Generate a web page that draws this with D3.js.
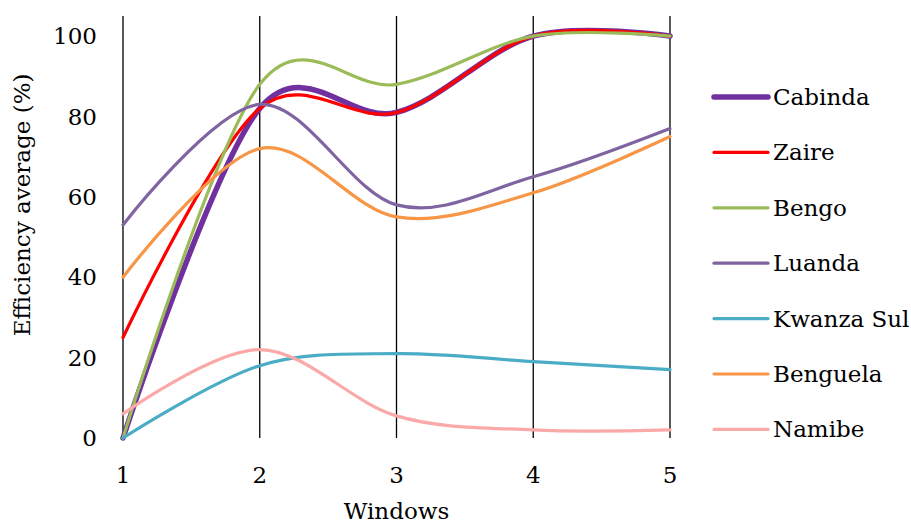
<!DOCTYPE html>
<html>
<head>
<meta charset="utf-8">
<script src="https://cdn.jsdelivr.net/npm/d3@7"></script>
<style>
  body { margin: 0; background: #fff; }
  text { font-family: "DejaVu Serif", serif; fill: #000; }
</style>
</head>
<body>
<div id="chart"></div>
<script>
const windows = [1, 2, 3, 4, 5];
const names = ["Cabinda", "Zaire", "Bengo", "Luanda", "Kwanza Sul", "Benguela", "Namibe"];
const cabinda = [0, 82, 81, 100, 100];
const zaire = [25, 82, 81, 100, 100];
const bengo = [0, 88, 88, 100, 100];
const luanda = [53, 83, 58, 65, 77];
const kwanzaSul = [0, 18, 21, 19, 17];
const benguela = [40, 72, 55, 61, 75];
const namibe = [6, 22, 5.5, 2, 2];
const yTicks = [0, 20, 40, 60, 80, 100];

const series = [cabinda, zaire, bengo, luanda, kwanzaSul, benguela, namibe];
const colors = ["#7030A0", "#FF0000", "#9BBB59", "#8064A2", "#4BACC6", "#F79646", "#FBA8A8"];
const widths = [5.5, 3.2, 3.2, 3.2, 3.2, 3.2, 3.2];

const width = 911, height = 525;
const margin = {top: 16, right: 241, bottom: 87, left: 123};

const svg = d3.select("#chart")
    .append("svg")
    .attr("width", width)
    .attr("height", height);

const x = d3.scaleLinear()
    .domain([1, 5])
    .range([margin.left, width - margin.right]);

const y = d3.scaleLinear()
    .domain([0, 105])
    .range([height - margin.bottom, margin.top]);

// vertical gridlines at each window
svg.selectAll(".grid")
    .data(windows)
    .join("line")
    .attr("x1", d => x(d))
    .attr("x2", d => x(d))
    .attr("y1", y(105))
    .attr("y2", y(0))
    .attr("stroke", "#000")
    .attr("stroke-width", 1.3);

// tick labels
svg.selectAll(".ylab")
    .data(yTicks)
    .join("text")
    .attr("x", 97)
    .attr("y", d => y(d))
    .attr("dy", "0.35em")
    .attr("text-anchor", "end")
    .attr("font-size", "23px")
    .text(d => d);

svg.selectAll(".xlab")
    .data(windows)
    .join("text")
    .attr("x", d => x(d))
    .attr("y", 483)
    .attr("text-anchor", "middle")
    .attr("font-size", "23px")
    .text(d => d);

svg.append("text")
    .attr("x", x(3))
    .attr("y", 519)
    .attr("text-anchor", "middle")
    .attr("font-size", "23px")
    .text("Windows");

svg.append("text")
    .attr("transform", `translate(30, ${y(58)}) rotate(-90)`)
    .attr("text-anchor", "middle")
    .attr("font-size", "23px")
    .text("Efficiency average (%)");

// smoothed lines (Excel-style)
const line = d3.line()
    .x((d, i) => x(windows[i]))
    .y(d => y(d))
    .curve(d3.curveCardinal.tension(0));

svg.selectAll(".series")
    .data(series)
    .join("path")
    .attr("d", d => line(d))
    .attr("fill", "none")
    .attr("stroke", (d, i) => colors[i])
    .attr("stroke-width", (d, i) => widths[i])
    .attr("stroke-linecap", "round");

// legend
const legend = svg.selectAll(".legend")
    .data(names)
    .join("g")
    .attr("transform", (d, i) => `translate(714, ${97 + i * 55.4})`);

legend.append("line")
    .attr("x1", 0)
    .attr("x2", 54)
    .attr("stroke", (d, i) => colors[i])
    .attr("stroke-width", (d, i) => widths[i])
    .attr("stroke-linecap", "round");

legend.append("text")
    .attr("x", 59)
    .attr("dy", "0.35em")
    .attr("font-size", "23px")
    .text(d => d);
</script>
</body>
</html>
